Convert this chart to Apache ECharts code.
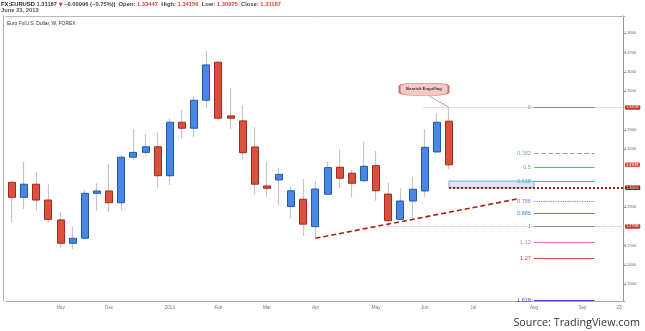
<!DOCTYPE html>
<html><head><meta charset="utf-8">
<script src="https://cdn.jsdelivr.net/npm/echarts@6/dist/echarts.min.js"></script>
<style>html,body{margin:0;padding:0;background:#fff}#c{width:645px;height:331px}</style>
</head><body><div id="c"></div><script>
// ---- categories (weekly bars, Monday dates) ----
const weeks = ['2012-10-08','2012-10-15','2012-10-22','2012-10-29','2012-11-05','2012-11-12','2012-11-19','2012-11-26',
 '2012-12-03','2012-12-10','2012-12-17','2012-12-24','2012-12-31','2013-01-07','2013-01-14','2013-01-21','2013-01-28',
 '2013-02-04','2013-02-11','2013-02-18','2013-02-25','2013-03-04','2013-03-11','2013-03-18','2013-03-25','2013-04-01',
 '2013-04-08','2013-04-15','2013-04-22','2013-04-29','2013-05-06','2013-05-13','2013-05-20','2013-05-27','2013-06-03',
 '2013-06-10','2013-06-17','2013-06-24','2013-07-01','2013-07-08','2013-07-15','2013-07-22','2013-07-29','2013-08-05',
 '2013-08-12','2013-08-19','2013-08-26','2013-09-02','2013-09-09','2013-09-16','2013-09-23'];
const xLabelWeeks = ['2012-11-05','2012-12-03','2013-01-07','2013-02-04','2013-03-04','2013-04-01','2013-05-06','2013-06-03','2013-07-01','2013-08-05','2013-09-02','2013-09-23'];
const xLabelTexts = ['Nov','Dec','2013','Feb','Mar','Apr','May','Jun','Jul','Aug','Sep','23'];

// ---- OHLC values ----
const opens  = [1.3028,1.2950,1.3018,1.2936,1.2833,1.2712,1.2738,1.2971,1.2983,1.2922,1.3158,1.3183,1.3212,1.3062,1.3339,1.3308,1.3453,1.3650,1.3372,1.3346,1.3211,1.3009,1.3040,1.2902,1.2940,1.2798,1.2966,1.3106,1.3075,1.3036,1.3114,1.2967,1.2836,1.2931,1.2983,1.3185,1.33447];
const closes = [1.2950,1.3018,1.2936,1.2836,1.2712,1.2738,1.2971,1.2983,1.2922,1.3158,1.3183,1.3212,1.3062,1.3339,1.3308,1.3453,1.3636,1.3360,1.3360,1.3181,1.3018,1.2997,1.3069,1.2984,1.2811,1.2993,1.3104,1.3049,1.3023,1.3111,1.2984,1.2829,1.2931,1.2992,1.3209,1.3339,1.31187];
const highs  = [1.3032,1.3135,1.3080,1.3018,1.2873,1.2798,1.2988,1.3023,1.3123,1.3169,1.3304,1.3278,1.3287,1.3360,1.3403,1.3475,1.3708,1.3656,1.3515,1.3428,1.3313,1.3132,1.3104,1.3009,1.3045,1.3036,1.3135,1.3199,1.3092,1.3238,1.3190,1.3026,1.2997,1.3057,1.3303,1.3386,1.34156];
const lows   = [1.2821,1.2890,1.2881,1.2821,1.2686,1.2681,1.2735,1.2879,1.2873,1.2881,1.3144,1.3164,1.2997,1.3014,1.3252,1.3261,1.3411,1.3351,1.3303,1.3144,1.2966,1.2953,1.2907,1.2841,1.2750,1.2738,1.2963,1.3000,1.2950,1.3030,1.2933,1.27986,1.2833,1.2841,1.2953,1.3183,1.30975];

// ---- y axis ticks ----
const yTickValues  = [1.25,1.26,1.27,1.29,1.32,1.33,1.35,1.36,1.37,1.38];
const yLabelValues = [1.25,1.26,1.27,1.29,1.32,1.33,1.35,1.36,1.37,1.38];

// ---- Fibonacci retracement ----
const fibLabels = ['0','0.382','0.5','0.618','0.786','0.886','1','1.13','1.27','1.618'];
const fibPrices = [1.34156,1.31799,1.31071,1.30343,1.29306,1.28689,1.27986,1.27184,1.26320,1.24173];
const fibColors = ['#8c8c8c','#7da7b2','#5cc05c','#3fbf95','#aa6ad8','#3a8fcf','#8c8c8c','#e070c0','#d04848','#4545dd'];
const fibTypes  = ['solid','dashed','solid','solid','dotted','solid','solid','solid','solid','solid'];
const fibSpan = [43, 48];

// ---- drawings ----
const trendLine = [[25, 1.2738], [41.58, 1.2941]];
const zoneRect = [[36, 1.30343], [43, 1.30000]];
const calloutPos = [33.94, 1.35098];
const calloutTail = [[34.3, 1.3478], [36, 1.34156]];
const priceLines = [
  {value: 1.34156, from: 33.9, color: '#f2a9a6', width: 1, type: 'dotted', tag: '#c9362b'},
  {value: 1.31187, from: 50.45, color: 'rgba(0,0,0,0)', width: 0, type: 'solid', tag: '#e24b3f'},
  {value: 1.30000, from: 36, color: '#a61b12', width: 2, type: [2, 2], tag: '#990d0d'},
  {value: 1.27986, from: 30.9, color: '#f2a9a6', width: 1, type: 'dotted', tag: '#c9362b'}
];

const labelMap = {};
xLabelWeeks.forEach((w, i) => { labelMap[w] = xLabelTexts[i]; });

const wickData = opens.map((o, i) => [o, closes[i], lows[i], highs[i]]);
const bodyData = opens.map((o, i) => [o, closes[i], Math.min(o, closes[i]), Math.max(o, closes[i])]);

const fibMarkLines = fibPrices.map((p, i) => [
  {coord: [fibSpan[0], p], lineStyle: {color: fibColors[i], width: 1.2, type: fibTypes[i]},
   label: {show: true, position: 'start', formatter: fibLabels[i], color: fibColors[i], fontSize: 5.6, distance: 3}},
  {coord: [fibSpan[1], p]}
]);
const priceMarkLines = priceLines.map(pl => [
  {coord: [pl.from, pl.value], lineStyle: {color: pl.color, width: pl.width, type: pl.type},
   label: {show: true, position: 'end', formatter: pl.value.toFixed(5), color: '#fff', fontSize: 3.4,
           backgroundColor: pl.tag, padding: [1, 1.5, 0.6, 1.5], distance: 0, borderRadius: 1}},
  {coord: [50.5, pl.value]}
]);

const chart = echarts.init(document.getElementById('c'), null, {renderer: 'canvas'});
chart.setOption({
  animation: false,
  backgroundColor: '#fff',
  title: [
    {left: 1, top: 1.7, padding: 0, text: '{b|FX:EURUSD} {n|1.31187} {r|▼} {n|\u22120.00996 (\u22120.75%)|}  {n|Open:} {v|1.33447}  {n|High:} {v|1.34156}  {n|Low:} {v|1.30975}  {n|Close:} {v|1.31187}\n{d|June 23, 2013}',
     textStyle: {fontSize: 5.8, fontFamily: 'Liberation Sans', rich: {
       b: {fontSize: 5.8, fontWeight: 'bold', color: '#222', fontFamily: 'Liberation Sans', lineHeight: 6},
       n: {fontSize: 5.8, color: '#444', fontFamily: 'Liberation Sans', lineHeight: 6},
       r: {fontSize: 5, color: '#d33', fontFamily: 'DejaVu Sans', lineHeight: 6},
       v: {fontSize: 5.8, color: '#d0453a', fontFamily: 'Liberation Sans', lineHeight: 6},
       d: {fontSize: 5.8, color: '#555', fontFamily: 'Liberation Sans', lineHeight: 6}
     }}},
    {left: 7, top: 21.5, padding: 0, text: 'Euro Fx/U.S. Dollar, W, FOREX',
     textStyle: {fontSize: 4.9, color: '#333', fontWeight: 'normal', fontFamily: 'Liberation Sans'}},
    {right: 5, bottom: 3, padding: 0, text: 'Source: TradingView.com',
     textStyle: {fontSize: 10.8, color: '#333', fontWeight: 'normal', fontFamily: 'Open Sans'}}
  ],
  grid: {left: 6, right: 20, top: 16, bottom: 30, outerBoundsMode: 'none'},
  xAxis: [
    {type: 'category', data: weeks, boundaryGap: true,
     axisLine: {onZero: false, lineStyle: {color: '#a8a8a8', width: 1}},
     axisTick: {show: false},
     axisLabel: {interval: (i, v) => labelMap[v] !== undefined, formatter: v => labelMap[v] || '',
                 fontSize: 4.6, color: '#777', margin: 4, fontFamily: 'Liberation Sans'},
     splitLine: {show: false}},
    {type: 'value', min: -0.5, max: 50.5, show: false, axisLine: {onZero: false}},
    {type: 'value', position: 'top', min: 0, max: 1,
     axisLine: {show: true, onZero: false, lineStyle: {color: '#b8b8b8'}}, axisTick: {show: false}, axisLabel: {show: false}, splitLine: {show: false}}
  ],
  yAxis: [
    {type: 'value', position: 'right', offset: -2, min: 1.24129, max: 1.38896, scale: true,
     axisLine: {show: true, onZero: false, lineStyle: {color: '#999'}},
     axisTick: {show: true, length: 2.5, customValues: yTickValues, lineStyle: {color: '#999'}},
     axisLabel: {customValues: yLabelValues, formatter: v => v.toFixed(5), fontSize: 3.3, color: '#666', margin: 1.5, fontFamily: 'Liberation Sans'},
     splitLine: {show: false}},
    {type: 'value', position: 'left', offset: 3, min: 0, max: 1,
     axisLine: {show: true, onZero: false, lineStyle: {color: '#b0b0b0'}}, axisTick: {show: false}, axisLabel: {show: false}, splitLine: {show: false}}
  ],
  series: [
    {type: 'candlestick', name: 'wicks', xAxisIndex: 0, yAxisIndex: 0, data: wickData, barWidth: 1.2,
     itemStyle: {color: '#c6c6c6', color0: '#c6c6c6', borderColor: '#c6c6c6', borderColor0: '#c6c6c6', borderWidth: 1.2}},
    {type: 'candlestick', name: 'bodies', xAxisIndex: 0, yAxisIndex: 0, data: bodyData, barWidth: 7.5,
     itemStyle: {color: '#4a86e8', color0: '#d9503f', borderColor: '#1f5c9e', borderColor0: '#a12a1c', borderWidth: 1}},
    {type: 'line', name: 'zone', xAxisIndex: 1, yAxisIndex: 0, data: [], symbol: 'none',
     markArea: {silent: true, data: [[
       {coord: zoneRect[0], itemStyle: {color: 'rgba(176,202,242,0.45)', borderColor: '#7fa7e8', borderWidth: 1}},
       {coord: zoneRect[1]}]]}},
    {type: 'line', name: 'priceLines', xAxisIndex: 1, yAxisIndex: 0, data: [], symbol: 'none',
     markLine: {silent: true, symbol: ['none', 'none'], data: priceMarkLines}},
    {type: 'line', name: 'fib', xAxisIndex: 1, yAxisIndex: 0, data: [], symbol: 'none',
     markLine: {silent: true, symbol: ['none', 'none'], data: fibMarkLines}},
    {type: 'line', name: 'trend', xAxisIndex: 1, yAxisIndex: 0, data: trendLine, symbol: 'none',
     lineStyle: {color: '#a8201a', width: 1.6, type: [5, 3]}},
    {type: 'line', name: 'tail', xAxisIndex: 1, yAxisIndex: 0, data: calloutTail, symbol: 'none',
     lineStyle: {color: '#b98080', width: 0.8}},
    {type: 'line', name: 'callout', xAxisIndex: 1, yAxisIndex: 0, data: [], symbol: 'none',
     markPoint: {silent: true, data: [{coord: calloutPos, symbol: 'roundRect', symbolSize: [49, 12],
       itemStyle: {color: '#f6c8c5', borderColor: '#cf6c6c', borderWidth: 1},
       label: {show: true, position: 'inside', formatter: 'Bearish Engulfing', fontSize: 4.2, fontWeight: 'bold', color: '#333', fontFamily: 'Liberation Sans'}}]}}
  ]
});
</script></body></html>
